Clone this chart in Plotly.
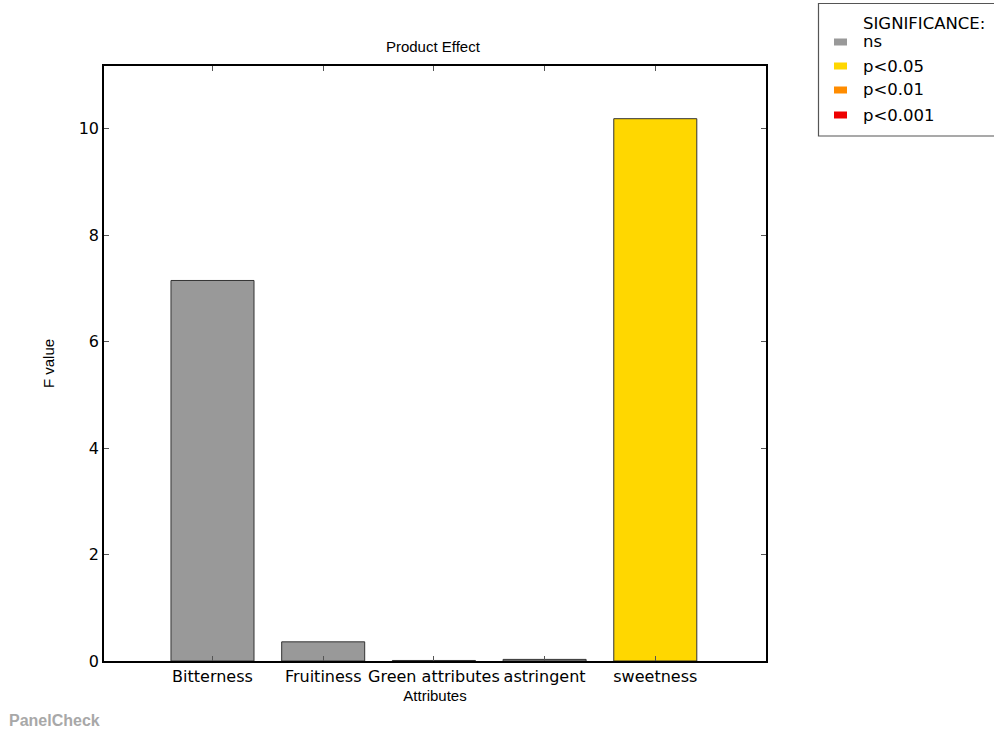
import plotly.graph_objects as go

# Product effect F values per attribute
attributes = ["Bitterness", "Fruitiness", "Green attributes", "astringent", "sweetness"]
f_values = [7.15, 0.36, 0.01, 0.03, 10.19]
significance = ["ns", "ns", "ns", "ns", "p<0.05"]

levels = ["ns", "p<0.05", "p<0.01", "p<0.001"]
level_colors = ["#999999", "#FFD700", "#FF8C00", "#EE0000"]
color_of = dict(zip(levels, level_colors))

positions = list(range(len(attributes)))
bar_colors = [color_of[s] for s in significance]

fig = go.Figure()
fig.add_trace(go.Bar(
    x=positions, y=f_values, width=0.75,
    marker=dict(color=bar_colors, line=dict(color="#333333", width=1)),
    customdata=significance,
    hovertemplate="%{y:.2f} (%{customdata})<extra></extra>",
    showlegend=False,
))

label_font = "Liberation Sans, Arial"
fig.update_layout(
    width=994, height=731,
    margin=dict(l=104, r=228, t=66, b=70, autoexpand=False),
    paper_bgcolor="white", plot_bgcolor="white",
    title=dict(text="Product Effect", x=0.4355, xanchor="center", y=0.936, yanchor="middle",
               font=dict(family=label_font, size=15, color="black")),
    font=dict(family="DejaVu Sans", size=16, color="black"),
    showlegend=False,
)
fig.update_xaxes(
    range=[-0.98, 5.0],
    tickmode="array", tickvals=positions, ticktext=attributes, tickangle=0,
    ticks="inside", ticklen=5, tickcolor="#555555",
    showline=True, linecolor="black", linewidth=1.5, mirror="ticks",
    showgrid=False, zeroline=False,
    title=dict(text="Attributes", standoff=6, font=dict(family=label_font, size=15)),
)
fig.update_yaxes(
    range=[0, 11.18],
    tickmode="array", tickvals=[0, 2, 4, 6, 8, 10],
    ticks="inside", ticklen=5, tickcolor="#555555",
    showline=True, linecolor="black", linewidth=1.5, mirror="ticks",
    showgrid=False, zeroline=False,
    title=dict(text="F value", standoff=20, font=dict(family=label_font, size=15)),
)

# Significance key, drawn in pixel-like paper coordinates to the right of the plot
pw, ph = 994 - 104 - 228, 731 - 66 - 70


def px(x):
    return (x - 104) / pw


def py(y):
    return (731 - 70 - y) / ph


fig.add_shape(type="rect", xref="paper", yref="paper",
              x0=px(818.5), x1=px(1000), y0=py(136), y1=py(3.5),
              line=dict(color="#555555", width=1.2), fillcolor="white", layer="above")
fig.add_annotation(text="SIGNIFICANCE:", xref="paper", yref="paper",
                   x=px(861), y=py(23), xanchor="left", yanchor="middle",
                   showarrow=False, font=dict(size=16.5, color="black"))
item_y = [42, 66, 90, 115]
for lvl, col, yy in zip(levels, level_colors, item_y):
    fig.add_shape(type="rect", xref="paper", yref="paper",
                  x0=px(834), x1=px(847), y0=py(yy + 3.5), y1=py(yy - 3.5),
                  line=dict(width=0), fillcolor=col, layer="above")
    fig.add_annotation(text=lvl, xref="paper", yref="paper",
                       x=px(861), y=py(yy), xanchor="left", yanchor="middle",
                       showarrow=False, font=dict(size=16.5, color="black"))

fig.add_annotation(
    text="<b>PanelCheck</b>", xref="paper", yref="paper",
    x=px(7), y=py(720), xanchor="left", yanchor="middle", showarrow=False,
    font=dict(family=label_font, size=16, color="#a8a8a8"),
)

fig.write_html("out.html")
